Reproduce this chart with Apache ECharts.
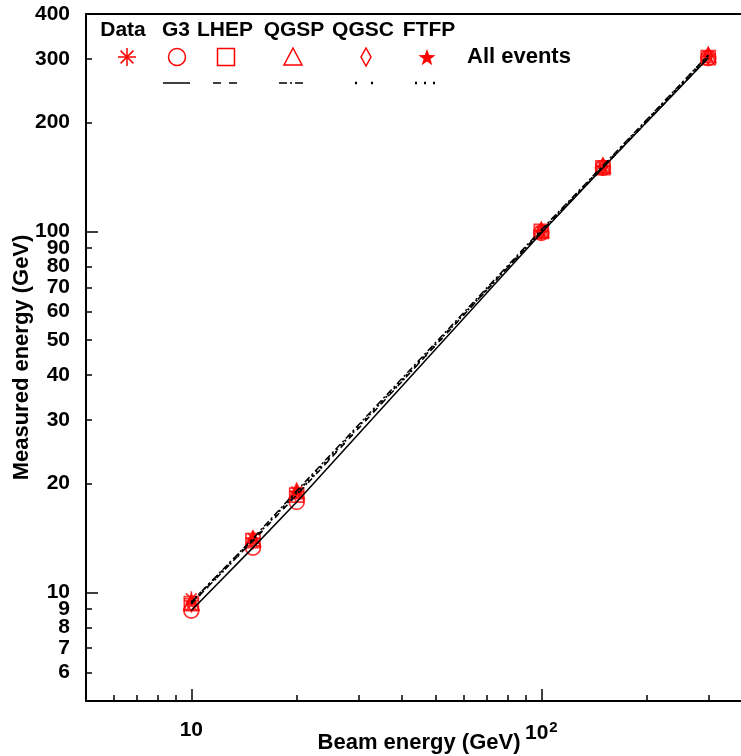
<!DOCTYPE html>
<html>
<head>
<meta charset="utf-8">
<script src="https://cdn.jsdelivr.net/npm/echarts@6/dist/echarts.min.js"></script>
<style>
html,body{margin:0;padding:0;background:#fff;}
#chart{width:741px;height:756px;}
</style>
</head>
<body>
<div id="chart"></div>
<script>
// ---- data ----
var beamEnergy = [10, 15, 20, 100, 150, 300];
var dataMeas = [9.6, 14.1, 19.0, 100, 151, 305];
var g3Meas   = [8.9, 13.3, 17.8, 99, 150, 302];
var lhepMeas = [9.3, 13.9, 18.6, 100, 150, 303];
var qgspMeas = [9.4, 14.1, 19.1, 101, 152, 308];
var qgscMeas = [9.3, 13.9, 18.7, 100, 151, 306];
var ftfpMeas = [9.4, 14.0, 18.9, 100, 151, 307];
var modelNames = ['Data', 'G3', 'LHEP', 'QGSP', 'QGSC', 'FTFP'];
var xMinorTicks = [6, 7, 8, 9, 20, 30, 40, 50, 60, 70, 80, 90, 200, 300];
var xMajorTicks = [10, 100];
var yMinorTicks = [6, 7, 8, 9, 20, 30, 40, 50, 60, 70, 80, 90, 200, 300, 400];
var yMajorTicks = [10, 100];
var yTickLabels = [6, 7, 8, 9, 10, 20, 30, 40, 50, 60, 70, 80, 90, 100, 200, 300, 400];
var xTickLabels = [10, 100];

function pairs(xs, ys) { return xs.map(function (x, i) { return [x, ys[i]]; }); }

var FAM = '"Liberation Sans", Arial, sans-serif';
var FS = 21;
var FONT = 'bold ' + FS + 'px ' + FAM;
var RED = '#ff0000';
var asteriskPath = 'path://M5,0L5,10M0,5L10,5M1.46,1.46L8.54,8.54M1.46,8.54L8.54,1.46';
function starPts(cx, cy, R, r) {
  var p = [];
  for (var i = 0; i < 10; i++) {
    var a = -Math.PI / 2 + i * Math.PI / 5;
    var rr = i % 2 === 0 ? R : r;
    p.push([cx + rr * Math.cos(a), cy + rr * Math.sin(a)]);
  }
  return p;
}
var starPath = 'path://' + starPts(50, 50, 50, 20).map(function (p, i) { return (i ? 'L' : 'M') + p[0].toFixed(2) + ',' + p[1].toFixed(2); }).join('') + 'Z';

var openStyle = { color: 'rgba(0,0,0,0)', borderColor: RED, borderWidth: 1.7 };

var chart = echarts.init(document.getElementById('chart'), null, { renderer: 'canvas' });

var axisCommon = { type: 'log', logBase: 10, min: 5, max: 400, splitLine: { show: false }, gridIndex: 0 };

var option = {
  backgroundColor: '#fff',
  animation: false,
  grid: { left: 86, top: 14, right: -11, bottom: 55, containLabel: false, outerBoundsMode: 'none' },
  xAxis: [
    Object.assign({}, axisCommon, {
      position: 'bottom',
      axisLine: { show: true, lineStyle: { color: '#000', width: 2 } },
      axisTick: { show: true, inside: true, length: 6, customValues: xMinorTicks, lineStyle: { color: '#000', width: 1.5 } },
      axisLabel: {
        show: true, customValues: xTickLabels, margin: 19,
        formatter: function (v) { return Math.round(v) === 100 ? '{b|10}{s|2}' : '{b|10}'; },
        rich: {
          b: { fontFamily: FAM, fontWeight: 'bold', fontSize: 21, color: '#000' },
          s: { fontFamily: FAM, fontWeight: 'bold', fontSize: 15, color: '#000', verticalAlign: 'top', padding: [0, 0, 12, 1] }
        }
      },
      name: 'Beam energy (GeV)', nameLocation: 'middle', nameGap: 31, nameMoveOverlap: false,
      nameTextStyle: { fontFamily: FAM, fontWeight: 'bold', fontSize: 22, color: '#000' }
    }),
    Object.assign({}, axisCommon, {
      position: 'bottom',
      axisLine: { show: false },
      axisTick: { show: true, inside: true, length: 12, customValues: xMajorTicks, lineStyle: { color: '#000', width: 1.5 } },
      axisLabel: { show: false }
    }),
    Object.assign({}, axisCommon, {
      position: 'top',
      axisLine: { show: true, lineStyle: { color: '#000', width: 2 } },
      axisTick: { show: false },
      axisLabel: { show: false }
    })
  ],
  yAxis: [
    Object.assign({}, axisCommon, {
      position: 'left',
      axisLine: { show: true, lineStyle: { color: '#000', width: 2 } },
      axisTick: { show: true, inside: true, length: 6, customValues: yMinorTicks, lineStyle: { color: '#000', width: 1.5 } },
      axisLabel: {
        show: true, customValues: yTickLabels, margin: 16,
        fontFamily: FAM, fontWeight: 'bold', fontSize: FS, color: '#000',
        formatter: function (v) { return String(Math.round(v)); }
      },
      name: 'Measured energy (GeV)', nameLocation: 'middle', nameGap: 53, nameMoveOverlap: false,
      nameTextStyle: { fontFamily: FAM, fontWeight: 'bold', fontSize: 22, color: '#000' }
    }),
    Object.assign({}, axisCommon, {
      position: 'left',
      axisLine: { show: false },
      axisTick: { show: true, inside: true, length: 12, customValues: yMajorTicks, lineStyle: { color: '#000', width: 1.5 } },
      axisLabel: { show: false }
    })
  ],
  series: [
    { type: 'scatter', name: 'Data', data: pairs(beamEnergy, dataMeas), symbol: asteriskPath, symbolSize: 15, itemStyle: { color: RED, borderColor: RED, borderWidth: 1.7 }, z: 3 },
    { type: 'scatter', name: 'G3', data: pairs(beamEnergy, g3Meas), symbol: 'circle', symbolSize: 15, itemStyle: openStyle, z: 3 },
    { type: 'scatter', name: 'LHEP', data: pairs(beamEnergy, lhepMeas), symbol: 'rect', symbolSize: 14, itemStyle: openStyle, z: 3 },
    { type: 'scatter', name: 'QGSP', data: pairs(beamEnergy, qgspMeas), symbol: 'triangle', symbolSize: 15, itemStyle: openStyle, z: 3 },
    { type: 'scatter', name: 'QGSC', data: pairs(beamEnergy, qgscMeas), symbol: 'diamond', symbolSize: [9, 16], itemStyle: openStyle, z: 3 },
    { type: 'scatter', name: 'FTFP', data: pairs(beamEnergy, ftfpMeas), symbol: starPath, symbolSize: 16, itemStyle: { color: RED }, z: 3 },
    { type: 'line', name: 'G3 line', data: pairs(beamEnergy, g3Meas), showSymbol: false, symbol: 'none', lineStyle: { color: '#000', width: 1.5, type: 'solid' }, z: 4 },
    { type: 'line', name: 'LHEP line', data: pairs(beamEnergy, lhepMeas), showSymbol: false, symbol: 'none', lineStyle: { color: '#000', width: 1.5, type: [6, 6] }, z: 4 },
    { type: 'line', name: 'QGSP line', data: pairs(beamEnergy, qgspMeas), showSymbol: false, symbol: 'none', lineStyle: { color: '#000', width: 1.5, type: [7, 3, 2, 3] }, z: 4 },
    { type: 'line', name: 'QGSC line', data: pairs(beamEnergy, qgscMeas), showSymbol: false, symbol: 'none', lineStyle: { color: '#000', width: 2, type: [2, 9] }, z: 4 },
    { type: 'line', name: 'FTFP line', data: pairs(beamEnergy, ftfpMeas), showSymbol: false, symbol: 'none', lineStyle: { color: '#000', width: 2, type: [2, 4] }, z: 4 }
  ],
  graphic: (function () {
    var els = [];
    var hdrX = [123, 176, 225, 294, 363, 429];
    modelNames.forEach(function (n, i) {
      els.push({ type: 'text', x: hdrX[i], y: 30, style: { text: n, font: FONT, fill: '#000', align: 'center', verticalAlign: 'middle' } });
    });
    var my = 57;
    var ast = { type: 'group', x: 127, y: my, children: [] };
    [[0, -9, 0, 9], [-9, 0, 9, 0], [-6.4, -6.4, 6.4, 6.4], [-6.4, 6.4, 6.4, -6.4]].forEach(function (s) {
      ast.children.push({ type: 'line', shape: { x1: s[0], y1: s[1], x2: s[2], y2: s[3] }, style: { stroke: RED, lineWidth: 1.5 } });
    });
    els.push(ast);
    els.push({ type: 'circle', shape: { cx: 177, cy: my, r: 8.5 }, style: { fill: 'none', stroke: RED, lineWidth: 1.5 } });
    els.push({ type: 'rect', shape: { x: 217.5, y: my - 8.5, width: 17, height: 17 }, style: { fill: 'none', stroke: RED, lineWidth: 1.5 } });
    els.push({ type: 'polygon', shape: { points: [[293, my - 9], [302, my + 8], [284, my + 8]] }, style: { fill: 'none', stroke: RED, lineWidth: 1.5 } });
    els.push({ type: 'polygon', shape: { points: [[366, my - 9], [371, my], [366, my + 9], [361, my]] }, style: { fill: 'none', stroke: RED, lineWidth: 1.5 } });
    els.push({ type: 'polygon', shape: { points: starPts(427, my + 1, 9, 3.6) }, style: { fill: RED } });
    els.push({ type: 'text', x: 467, y: my, style: { text: 'All events', font: 'bold 22px ' + FAM, fill: '#000', align: 'left', verticalAlign: 'middle' } });
    var ly = 83;
    var ls = [[163, 190, null, 1.5], [213, 237, [8, 8], 1.5], [279, 304, [8, 3, 2, 3], 1.5], [355, 375, [2, 14], 2.5], [415, 437, [2, 7], 2.5]];
    ls.forEach(function (l) {
      els.push({ type: 'line', shape: { x1: l[0], y1: ly, x2: l[1], y2: ly }, style: { stroke: '#000', lineWidth: l[3], lineDash: l[2] } });
    });
    return els;
  })()
};
chart.setOption(option);
</script>
</body>
</html>
